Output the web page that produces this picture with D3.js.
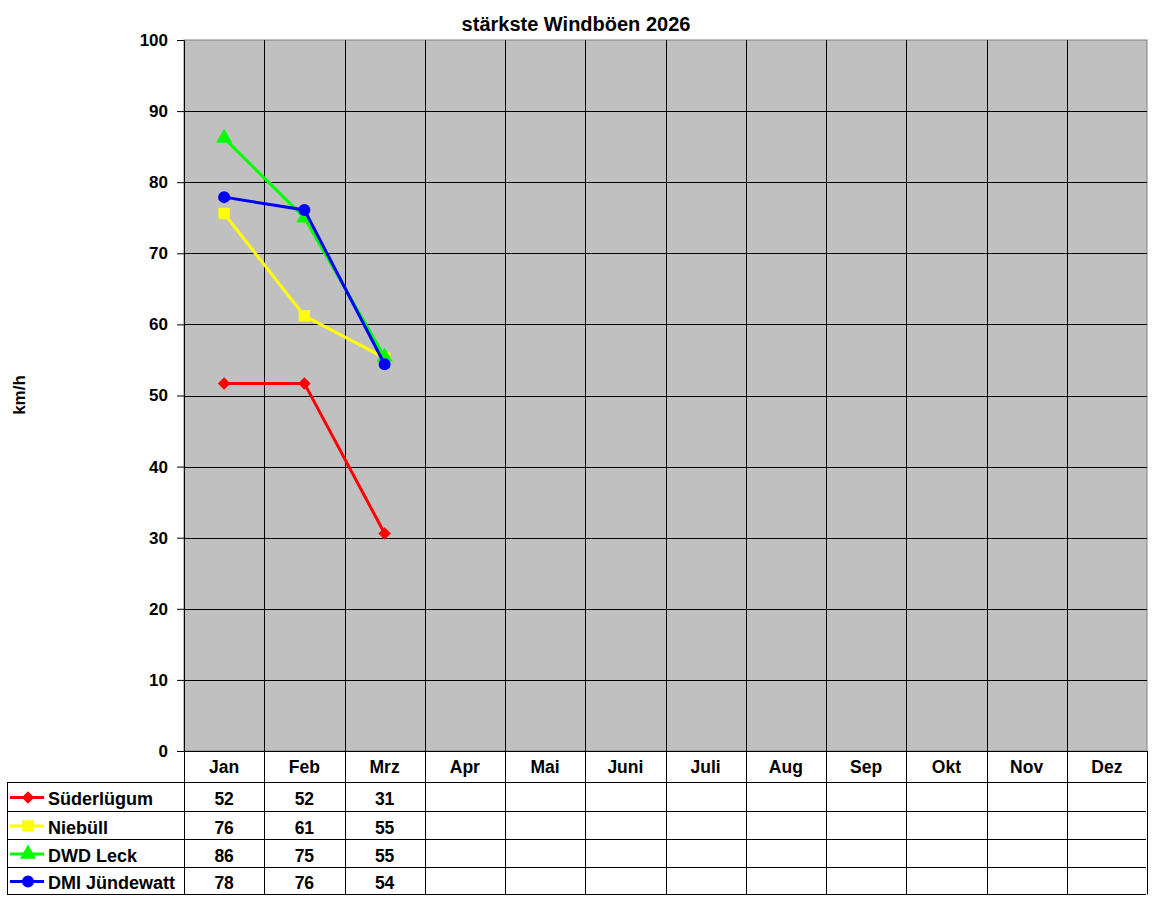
<!DOCTYPE html>
<html>
<head>
<meta charset="utf-8">
<script src="https://cdn.jsdelivr.net/npm/d3@7"></script>
<style>
  body { margin: 0; background: #fff; }
  text { font-family: "Liberation Sans", Arial, sans-serif; font-weight: bold; }
</style>
</head>
<body>
<div id="chart"></div>
<script>
// data
var months = ["Jan", "Feb", "Mrz", "Apr", "Mai", "Juni", "Juli", "Aug", "Sep", "Okt", "Nov", "Dez"];
var stations = ["Süderlügum", "Niebüll", "DWD Leck", "DMI Jündewatt"];
var suederluegum = [51.7, 51.7, 30.6];
var niebuell = [75.6, 61.2, 55.3];
var dwdLeck = [86.2, 75.0, 55.4];
var dmiJuendewatt = [77.9, 76.1, 54.4];
var yTicks = [0, 10, 20, 30, 40, 50, 60, 70, 80, 90, 100];

var colors = ["#ff0000", "#ffff00", "#00ff00", "#0000ff"];
var symbols = [d3.symbolDiamond2, d3.symbolSquare, d3.symbolTriangle, d3.symbolCircle];
var symSizes = [100, 130, 115, 113];

var series = stations.map(function(s, i) {
    return { name: s, values: [suederluegum, niebuell, dwdLeck, dmiJuendewatt][i] };
});

var svgWidth = 1152;
var svgHeight = 900;

var margin = { top: 40, left: 184, right: 5, bottom: 149 };
var chartWidth = 1147 - margin.left;
var chartHeight = 751 - margin.top;

var svg = d3.select("#chart")
    .append("svg")
    .attr("width", svgWidth)
    .attr("height", svgHeight);

var chartGroup = svg.append("g")
    .attr("transform", `translate(${margin.left},${margin.top})`);

var x = d3.scaleBand().domain(months).range([0, chartWidth]);
var y = d3.scaleLinear().domain([0, 100]).range([chartHeight, 0]);

// plot background
chartGroup.append("rect")
    .attr("width", chartWidth)
    .attr("height", chartHeight)
    .attr("fill", "#c0c0c0")
    .attr("stroke", "#808080")
    .attr("stroke-width", 1);

// horizontal grid
chartGroup.selectAll("line.hgrid")
    .data(yTicks.slice(1, -1))
    .enter()
    .append("line")
    .attr("x1", 0).attr("x2", chartWidth)
    .attr("y1", d => Math.round(y(d)) + 0.5)
    .attr("y2", d => Math.round(y(d)) + 0.5)
    .attr("stroke", "#000");

// vertical grid
chartGroup.selectAll("line.vgrid")
    .data(months.slice(1))
    .enter()
    .append("line")
    .attr("x1", d => Math.round(x(d)) + 0.5)
    .attr("x2", d => Math.round(x(d)) + 0.5)
    .attr("y1", 0).attr("y2", chartHeight)
    .attr("stroke", "#000");

// y axis
var leftAxis = d3.axisLeft(y).tickValues(yTicks).tickSize(7).tickPadding(9);
var yAxis = chartGroup.append("g").call(leftAxis);
yAxis.select(".domain").attr("stroke", "#000");
yAxis.selectAll("text")
    .style("font-size", "17px")
    .style("font-family", "'Liberation Sans', Arial, sans-serif")
    .style("font-weight", "bold")
    .attr("fill", "#000");

// lines
var line = d3.line()
    .x((d, i) => x(months[i]) + x.bandwidth() / 2)
    .y(d => y(d));

series.forEach(function(s, i) {
    chartGroup.append("path")
        .datum(s.values)
        .attr("d", line)
        .attr("fill", "none")
        .attr("stroke", colors[i])
        .attr("stroke-width", 3);
    chartGroup.selectAll("path.m" + i)
        .data(s.values)
        .enter()
        .append("path")
        .attr("d", d3.symbol().type(symbols[i]).size(symSizes[i]))
        .attr("transform", (d, j) => `translate(${x(months[j]) + x.bandwidth() / 2},${y(d)})`)
        .attr("fill", colors[i]);
});

// data table under the plot
var rowTops = [751, 782, 811, 839, 867, 894];
var tableLeft = 7;
var tg = svg.append("g");

// month header
months.forEach(function(m) {
    tg.append("text")
        .attr("x", margin.left + x(m) + x.bandwidth() / 2)
        .attr("y", 773)
        .attr("text-anchor", "middle")
        .style("font-size", "17.5px")
        .text(m);
});

// table lines
tg.append("line").attr("x1", margin.left).attr("x2", 1147).attr("y1", 751.5).attr("y2", 751.5).attr("stroke", "#000");
rowTops.slice(1).forEach(function(t) {
    tg.append("line")
        .attr("x1", tableLeft).attr("x2", 1146)
        .attr("y1", t + 0.5).attr("y2", t + 0.5)
        .attr("stroke", "#000");
});
tg.append("line").attr("x1", tableLeft + 0.5).attr("x2", tableLeft + 0.5)
    .attr("y1", 782).attr("y2", 894.5).attr("stroke", "#000");
tg.append("line").attr("x1", margin.left + 0.5).attr("x2", margin.left + 0.5)
    .attr("y1", 751).attr("y2", 894.5).attr("stroke", "#000");
months.forEach(function(m) {
    var xx = Math.round(margin.left + x(m) + x.bandwidth()) + 0.5;
    tg.append("line").attr("x1", xx).attr("x2", xx)
        .attr("y1", 751).attr("y2", 894.5).attr("stroke", "#000");
});

// rows
series.forEach(function(s, i) {
    var mid = (rowTops[i + 1] + rowTops[i + 2]) / 2;
    tg.append("line")
        .attr("x1", 10).attr("x2", 44)
        .attr("y1", mid + 1).attr("y2", mid + 1)
        .attr("stroke", colors[i]).attr("stroke-width", 3);
    tg.append("path")
        .attr("d", d3.symbol().type(symbols[i]).size(symSizes[i]))
        .attr("transform", `translate(28,${mid + 1})`)
        .attr("fill", colors[i]);
    tg.append("text")
        .attr("x", 48)
        .attr("y", mid + 8.5)
        .style("font-size", "18px")
        .text(s.name);
    s.values.forEach(function(v, j) {
        tg.append("text")
            .attr("x", margin.left + x(months[j]) + x.bandwidth() / 2)
            .attr("y", mid + 8.5)
            .attr("text-anchor", "middle")
            .style("font-size", "17.5px")
            .text(Math.round(v));
    });
});

// title
svg.append("text")
    .attr("x", 576)
    .attr("y", 31)
    .attr("text-anchor", "middle")
    .style("font-size", "20px")
    .text("stärkste Windböen 2026");

// y axis label
svg.append("text")
    .attr("transform", "rotate(-90)")
    .attr("x", -395)
    .attr("y", 25)
    .attr("text-anchor", "middle")
    .style("font-size", "17px")
    .text("km/h");
</script>
</body>
</html>
